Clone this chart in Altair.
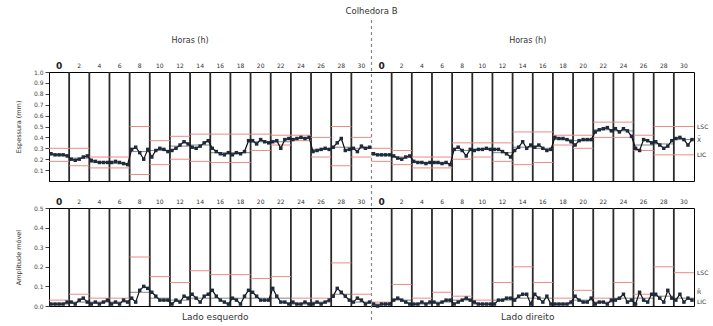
import altair as alt
import pandas as pd

FONT = "DejaVu Sans"
HOURS = [0, 2, 4, 6, 8, 10, 12, 14, 16, 18, 20, 22, 24, 26, 28, 30]

# ---- top panel (espessura) : 5 samples per 2-hour block ----
top_left = [
    [0.25, 0.24, 0.24, 0.24, 0.23], [0.20, 0.19, 0.20, 0.22, 0.23],
    [0.19, 0.18, 0.17, 0.17, 0.17], [0.17, 0.18, 0.17, 0.16, 0.15],
    [0.29, 0.31, 0.26, 0.20, 0.29], [0.22, 0.28, 0.30, 0.29, 0.27],
    [0.28, 0.30, 0.33, 0.36, 0.34], [0.31, 0.30, 0.32, 0.35, 0.37],
    [0.30, 0.27, 0.25, 0.24, 0.26], [0.24, 0.26, 0.25, 0.27, 0.37],
    [0.37, 0.34, 0.38, 0.36, 0.35], [0.36, 0.37, 0.30, 0.38, 0.39],
    [0.38, 0.39, 0.40, 0.39, 0.40], [0.27, 0.28, 0.29, 0.30, 0.29],
    [0.31, 0.35, 0.39, 0.28, 0.29], [0.30, 0.27, 0.32, 0.30, 0.31],
]
top_right = [
    [0.25, 0.24, 0.24, 0.24, 0.24], [0.23, 0.21, 0.20, 0.22, 0.23],
    [0.18, 0.17, 0.17, 0.16, 0.17], [0.17, 0.17, 0.16, 0.17, 0.15],
    [0.29, 0.31, 0.28, 0.23, 0.29], [0.28, 0.29, 0.29, 0.30, 0.29],
    [0.29, 0.29, 0.27, 0.25, 0.22], [0.28, 0.31, 0.36, 0.30, 0.33],
    [0.31, 0.33, 0.30, 0.28, 0.29], [0.40, 0.39, 0.39, 0.38, 0.36],
    [0.33, 0.37, 0.38, 0.38, 0.38], [0.45, 0.47, 0.48, 0.49, 0.46],
    [0.48, 0.45, 0.48, 0.46, 0.41], [0.30, 0.28, 0.38, 0.37, 0.35],
    [0.36, 0.33, 0.30, 0.32, 0.37], [0.39, 0.40, 0.38, 0.33, 0.38],
]
top_lsc_left = [0.30, 0.30, 0.22, 0.22, 0.50, 0.37, 0.41, 0.43, 0.43, 0.43, 0.43, 0.42, 0.42, 0.40, 0.50, 0.40]
top_lic_left = [0.18, 0.14, 0.12, 0.12, 0.06, 0.15, 0.20, 0.18, 0.17, 0.17, 0.28, 0.33, 0.37, 0.22, 0.14, 0.22]
top_lsc_right = [0.30, 0.28, 0.22, 0.22, 0.35, 0.35, 0.35, 0.45, 0.45, 0.42, 0.42, 0.54, 0.54, 0.42, 0.50, 0.50]
top_lic_right = [0.18, 0.15, 0.12, 0.12, 0.20, 0.22, 0.18, 0.15, 0.17, 0.33, 0.30, 0.40, 0.40, 0.28, 0.24, 0.24]
top_cl_left = [0.24, 0.21, 0.17, 0.16, 0.27, 0.28, 0.32, 0.33, 0.26, 0.26, 0.36, 0.36, 0.39, 0.29, 0.31, 0.30]
top_cl_right = [0.24, 0.22, 0.17, 0.16, 0.28, 0.29, 0.26, 0.31, 0.30, 0.38, 0.37, 0.47, 0.46, 0.33, 0.34, 0.38]

# ---- bottom panel (amplitude) ----
bot_left = [
    [0.01, 0.01, 0.01, 0.01, 0.02], [0.02, 0.01, 0.03, 0.04, 0.02],
    [0.01, 0.02, 0.01, 0.02, 0.03], [0.01, 0.02, 0.01, 0.03, 0.02],
    [0.04, 0.02, 0.08, 0.10, 0.09], [0.07, 0.05, 0.03, 0.03, 0.03],
    [0.01, 0.03, 0.02, 0.05, 0.04], [0.06, 0.04, 0.02, 0.05, 0.06],
    [0.08, 0.05, 0.03, 0.02, 0.01], [0.04, 0.03, 0.01, 0.05, 0.08],
    [0.07, 0.05, 0.03, 0.03, 0.03], [0.09, 0.05, 0.02, 0.02, 0.01],
    [0.02, 0.01, 0.01, 0.02, 0.01], [0.01, 0.02, 0.01, 0.02, 0.03],
    [0.05, 0.09, 0.07, 0.05, 0.03], [0.02, 0.04, 0.03, 0.01, 0.02],
]
bot_right = [
    [0.01, 0.00, 0.01, 0.01, 0.01], [0.03, 0.04, 0.03, 0.02, 0.01],
    [0.01, 0.01, 0.02, 0.01, 0.02], [0.02, 0.01, 0.02, 0.03, 0.03],
    [0.01, 0.02, 0.03, 0.04, 0.03], [0.02, 0.01, 0.01, 0.01, 0.01],
    [0.01, 0.03, 0.03, 0.04, 0.04], [0.03, 0.05, 0.06, 0.06, 0.01],
    [0.06, 0.04, 0.02, 0.05, 0.01], [0.01, 0.01, 0.01, 0.01, 0.02],
    [0.05, 0.03, 0.02, 0.02, 0.04], [0.01, 0.02, 0.02, 0.01, 0.03],
    [0.03, 0.04, 0.06, 0.02, 0.03], [0.01, 0.07, 0.03, 0.02, 0.06],
    [0.06, 0.04, 0.02, 0.08, 0.04], [0.03, 0.06, 0.02, 0.04, 0.03],
]
bot_lsc_left = [0.03, 0.06, 0.04, 0.04, 0.25, 0.15, 0.12, 0.18, 0.16, 0.16, 0.14, 0.15, 0.04, 0.04, 0.22, 0.06]
bot_lsc_right = [0.02, 0.11, 0.04, 0.07, 0.05, 0.03, 0.12, 0.20, 0.12, 0.04, 0.08, 0.04, 0.12, 0.06, 0.20, 0.17]
bot_cl_left = [0.01, 0.02, 0.02, 0.02, 0.07, 0.04, 0.03, 0.04, 0.04, 0.04, 0.04, 0.04, 0.01, 0.02, 0.06, 0.02]
bot_cl_right = [0.01, 0.03, 0.01, 0.02, 0.03, 0.01, 0.03, 0.04, 0.04, 0.01, 0.03, 0.02, 0.04, 0.04, 0.05, 0.04]

top_ctrl_labels = ["LSC", "X\u0304", "LIC"]
top_ctrl_values = [0.50, 0.38, 0.24]
bot_ctrl_labels = ["LSC", "R\u0304", "LIC"]
bot_ctrl_values = [0.17, 0.07, 0.02]

TITLE = "Colhedora B"
HOURS_TITLE = "Horas (h)"
SIDE_LABELS = ["Lado esquerdo", "Lado direito"]
TOP_YTITLE = "Espessura (mm)"
BOT_YTITLE = "Amplitude móvel"

W = 645
H_TOP = 109
H_BOT = 98
N = 5


def sample_df(left, right):
    rows = []
    for side, segs in enumerate([left, right]):
        for s, seg in enumerate(segs):
            for k, v in enumerate(seg):
                rows.append({"x": side * 32 + s * 2 + (k + 0.5) * 2 / N, "v": v, "side": side})
    return pd.DataFrame(rows)


def seg_df(left, right):
    rows = []
    for side, vals in enumerate([left, right]):
        for s, v in enumerate(vals):
            rows.append({"x": side * 32 + s * 2, "x2": side * 32 + s * 2 + 2, "v": v})
    return pd.DataFrame(rows)


bounds = pd.DataFrame({"x": [side * 32 + h for side in (0, 1) for h in HOURS[1:]]})
center = pd.DataFrame({"x": [32]})
hour_lab = pd.DataFrame({
    "x": [side * 32 + h + 1 for side in (0, 1) for h in HOURS if h != 0],
    "t": [str(h) for side in (0, 1) for h in HOURS if h != 0],
})
zero_lab = pd.DataFrame({"x": [1, 33], "t": ["0", "0"]})

xs = alt.X("x:Q", scale=alt.Scale(domain=[0, 64], nice=False, zero=False), axis=None)


def panel(samples, lsc, lic, cl, ctrl_labels, ctrl_values, dom, ticks, ytitle, h, top):
    ys = alt.Y("v:Q", scale=alt.Scale(domain=dom, nice=False, zero=False),
               axis=alt.Axis(values=ticks, format=".1f", title=ytitle, grid=False,
                             tickSize=4, labelFontSize=6, titleFontSize=6.5,
                             titleFontWeight="normal", titlePadding=12,
                             labelColor="#444", titleColor="#333", domainColor="black",
                             tickColor="#444"))
    layers = []
    layers.append(alt.Chart(bounds).mark_rule(color="#2a2a2a", strokeWidth=1.8).encode(
        x=xs, y=alt.value(0), y2=alt.value(h)))
    if top:
        layers.append(alt.Chart(center).mark_rule(color="#888", strokeWidth=1.2, strokeDash=[3, 3]).encode(
            x=xs, y=alt.value(-52), y2=alt.value(h)))
    else:
        layers.append(alt.Chart(center).mark_rule(color="#888", strokeWidth=1.2, strokeDash=[3, 3]).encode(
            x=xs, y=alt.value(-23), y2=alt.value(h + 16)))
    for df_lim in [lsc, lic]:
        if df_lim is not None:
            layers.append(alt.Chart(df_lim).mark_rule(color="#ea8c86", strokeWidth=1).encode(
                x=xs, x2="x2:Q", y=ys))
    layers.append(alt.Chart(cl).mark_rule(color="#222", strokeWidth=0.8, opacity=0.7).encode(
        x=xs, x2="x2:Q", y=ys))
    layers.append(alt.Chart(samples).mark_line(color="#111", strokeWidth=1.2).encode(
        x=xs, y=ys, detail="side:N"))
    layers.append(alt.Chart(samples).mark_square(color="#1d2b3c", size=12, opacity=1).encode(
        x=xs, y=ys))
    layers.append(alt.Chart(hour_lab).mark_text(fontSize=6, font=FONT, color="#333", baseline="bottom").encode(
        x=xs, y=alt.value(-3), text="t:N"))
    layers.append(alt.Chart(zero_lab).mark_text(fontSize=9, fontWeight="bold", font=FONT, color="#222",
                                                baseline="bottom").encode(
        x=xs, y=alt.value(-1), text="t:N"))
    cdf = pd.DataFrame({"t": ctrl_labels, "v": ctrl_values})
    layers.append(alt.Chart(cdf).mark_text(fontSize=6, font=FONT, color="#333", align="left").encode(
        x=alt.value(W + 3), y=ys, text="t:N"))
    if top:
        tdf = pd.DataFrame({"x": [14, 47.5], "t": [HOURS_TITLE, HOURS_TITLE]})
        layers.append(alt.Chart(tdf).mark_text(fontSize=8, font=FONT, color="#333").encode(
            x=xs, y=alt.value(-31), text="t:N"))
        ttl = pd.DataFrame({"x": [32], "t": [TITLE]})
        layers.append(alt.Chart(ttl).mark_text(fontSize=8.5, font=FONT, color="#333").encode(
            x=xs, y=alt.value(-61), text="t:N"))
    else:
        sdf = pd.DataFrame({"x": [16.5, 47.5], "t": SIDE_LABELS})
        layers.append(alt.Chart(sdf).mark_text(fontSize=9, font=FONT, color="#333").encode(
            x=xs, y=alt.value(h + 11), text="t:N"))
    return alt.layer(*layers).properties(width=W, height=h)


top = panel(sample_df(top_left, top_right),
            seg_df(top_lsc_left, top_lsc_right), seg_df(top_lic_left, top_lic_right),
            seg_df(top_cl_left, top_cl_right),
            top_ctrl_labels, top_ctrl_values, [0, 1.0],
            [0.1, 0.2, 0.3, 0.4, 0.5, 0.6, 0.7, 0.8, 0.9, 1.0], TOP_YTITLE, H_TOP, True)
bottom = panel(sample_df(bot_left, bot_right),
               seg_df(bot_lsc_left, bot_lsc_right), None,
               seg_df(bot_cl_left, bot_cl_right),
               bot_ctrl_labels, bot_ctrl_values, [0, 0.5],
               [0.0, 0.1, 0.2, 0.3, 0.4, 0.5], BOT_YTITLE, H_BOT, False)

chart = alt.vconcat(top, bottom, spacing=0).properties(
    padding={"left": 14, "top": 6, "right": 0, "bottom": 0},
    background="white",
).configure_view(stroke="black", strokeWidth=1).configure_text(font=FONT).configure_axis(
    labelFont=FONT, titleFont=FONT)

chart.save("out.html", embed_options={"renderer": "svg", "actions": False})
